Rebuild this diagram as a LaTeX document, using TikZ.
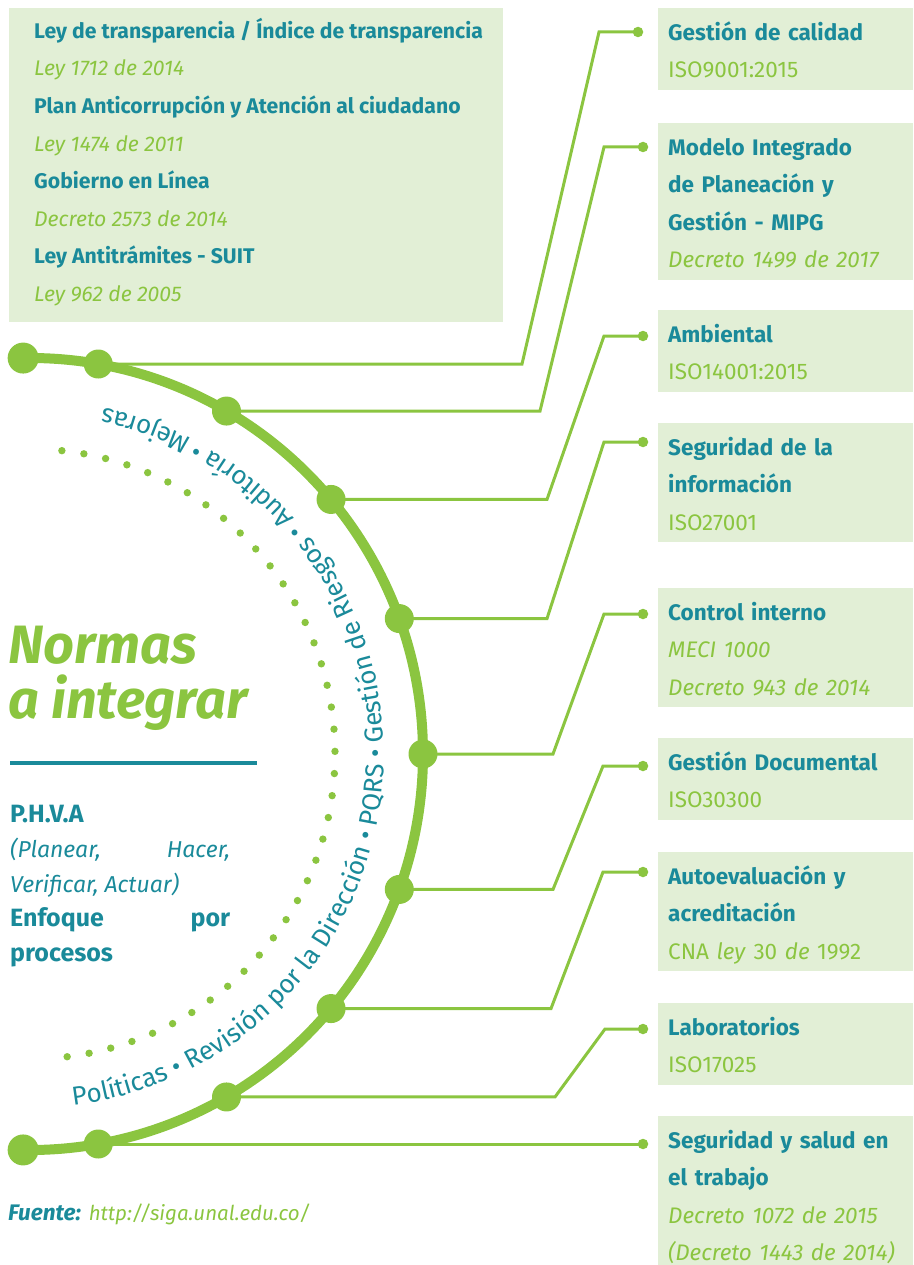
\documentclass[tikz,border=0pt]{standalone}
\usepackage{fontspec}
\setmainfont{Fira Sans}
\usepackage{tikz}
\usetikzlibrary{calc,decorations.text}
\definecolor{ateal}{HTML}{1A8A9A}
\definecolor{agreen}{HTML}{8BC540}
\definecolor{apale}{HTML}{E2EFD6}
\hyphenpenalty=10000
\exhyphenpenalty=10000
\newcommand{\hd}[1]{\mbox{\bfseries\color{ateal}#1}}
\newcommand{\lw}[1]{\mbox{\itshape\color{agreen}#1}}
\newcommand{\up}[1]{\mbox{\color{agreen}#1}}
\newcommand{\topstrut}{\rule{0pt}{25pt}}
\newcommand{\botstrut}{\rule[-5pt]{0pt}{5pt}}
\newcommand{\arcfont}{\fontsize{26}{30}\selectfont}

\begin{document}
\begin{tikzpicture}[x=1pt,y=1pt,
  rbox/.style={fill=apale, anchor=north west, text width=235pt, inner xsep=10pt, inner ysep=7pt,
    align=left, font=\fontsize{22.5}{37.5}\selectfont},
  bigdot/.style={circle, fill=agreen, minimum size=31pt, inner sep=0pt},
  pdot/.style={circle, fill=agreen, minimum size=29pt, inner sep=0pt},
  tipdot/.style={circle, fill=agreen, minimum size=10.5pt, inner sep=0pt},
  link/.style={agreen, line width=3pt},
  arcline/.style={agreen, line width=10pt}]
\useasboundingbox (0,0) rectangle (913,-1265);

\node[anchor=north west, fill=apale, minimum width=494pt, minimum height=314pt, inner sep=0pt] (lbox) at (9,-8) {};
\node[anchor=north west, inner sep=0pt, align=left, font=\fontsize{21.2}{37.6}\selectfont] (ltxt) at (34,-14)
  {\rule{0pt}{24pt}\hd{Ley de transparencia / Índice de transparencia}\\
   \lw{Ley 1712 de 2014}\\
   \hd{Plan Anticorrupción y Atención al ciudadano}\\
   \lw{Ley 1474 de 2011}\\
   \hd{Gobierno en Línea}\\
   \lw{Decreto 2573 de 2014}\\
   \hd{Ley Antitrámites - SUIT}\\
   \lw{Ley 962 de 2005}};

\node[rbox] (r1) at (658,-8) {\topstrut\hd{Gestión de calidad}\\\up{ISO9001:2015}\botstrut};
\node[rbox] (r2) at (658,-123) {\topstrut\hd{Modelo Integrado}\\\hd{de Planeación y}\\\hd{Gestión - MIPG}\\\lw{Decreto 1499 de 2017}\botstrut};
\node[rbox] (r3) at (658,-310) {\topstrut\hd{Ambiental}\\\up{ISO14001:2015}\botstrut};
\node[rbox] (r4) at (658,-423) {\topstrut\hd{Seguridad de la}\\\hd{información}\\\up{ISO27001}\botstrut};
\node[rbox] (r5) at (658,-588) {\topstrut\hd{Control interno}\\\lw{MECI 1000}\\\lw{Decreto 943 de 2014}\botstrut};
\node[rbox] (r6) at (658,-738) {\topstrut\hd{Gestión Documental}\\\up{ISO30300}\botstrut};
\node[rbox] (r7) at (658,-852) {\topstrut\hd{Autoevaluación y}\\\hd{acreditación}\\\up{CNA \textit{ley} 30 \textit{de} 1992}\botstrut};
\node[rbox] (r8) at (658,-1003) {\topstrut\hd{Laboratorios}\\\up{ISO17025}\botstrut};
\node[rbox] (r9) at (658,-1116) {\topstrut\hd{Seguridad y salud en}\\\hd{el trabajo}\\\lw{Decreto 1072 de 2015}\\\lw{(Decreto 1443 de 2014)}\botstrut};

\coordinate (C) at (30,-754);
\draw[arcline] ($(C)+(91:393 and 396)$) arc[start angle=91, end angle=-91, x radius=393, y radius=396];
\node[bigdot] (m0) at ($(C)+(91:393 and 396)$) {};
\node[bigdot] (m10) at ($(C)+(-91:393 and 396)$) {};

\foreach \a/\bx/\cx/\ey/\ex [count=\i] in {80/522/599/32/638, 60/540/604/147/643, 40/547/604/336/643,
    20/547/604/442/643, 0/553/604/614/643, -20/553/603/766/643, -40/551/603/872/643, -60/555/605/1029/643}{
  \node[pdot] (m\i) at ($(C)+(\a:393 and 396)$) {};
  \node[tipdot] (e\i) at (\ex,-\ey) {};
  \draw[link] (m\i.center) -- (m\i.center -| \bx,0) -- (\cx,-\ey) -- (e\i.center);
}
\node[pdot] (m9) at ($(C)+(-80:393 and 396)$) {};
\node[tipdot] (e9) at (m9 -| 643,0) {};
\draw[link] (m9.center) -- (e9.center);

\foreach \k in {0,...,40}
  \fill[agreen] ($(C)+({84-\k*167/40}:305)$) circle (3.7);

\path[decorate, decoration={text along path, text align=left,
    text={|\arcfont\color{ateal}|Políticas • Revisión por la Dirección • PQRS • Gestión de Riesgos • Auditoría • Mejoras}}]
  ($(C)+(-83:354)$) arc[start angle=-83, end angle=88, radius=354];

\node[anchor=base west, inner sep=0pt, font=\fontsize{54}{60}\selectfont\bfseries\itshape, text=agreen] (ttl1) at (8,-663) {Normas};
\node[anchor=base west, inner sep=0pt, font=\fontsize{54}{60}\selectfont\bfseries\itshape, text=agreen] (ttl2) at (8,-718) {a integrar};
\draw[ateal, line width=4pt] (10,-763) -- (257,-763);

\node[anchor=north west, inner sep=0pt, text width=220pt, align=justify, font=\fontsize{23}{34.8}\selectfont, text=ateal] (phva) at (10,-805)
  {{\fontsize{25}{34.8}\selectfont\bfseries P.H.V.A}\\ {\itshape (Planear, Hacer, Verificar, Actuar)}\\ {\fontsize{25}{34.8}\selectfont\bfseries Enfoque por procesos}};

\node[anchor=base west, inner sep=0pt, font=\fontsize{22.5}{27}\selectfont\itshape] (src) at (8,-1220)
  {\textcolor{ateal}{\bfseries Fuente:} \textcolor{agreen}{\fontsize{20.5}{27}\selectfont http://siga.unal.edu.co/}};
\end{tikzpicture}
\end{document}
